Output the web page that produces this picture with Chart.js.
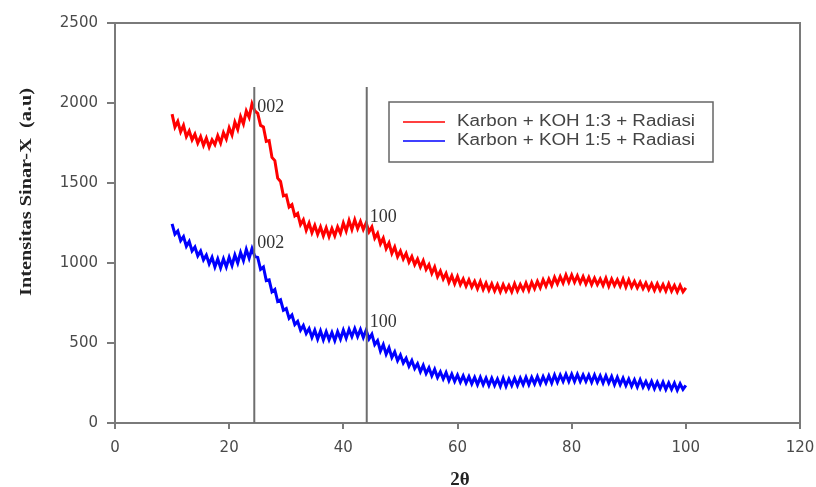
<html>

<head>
    <title>XRD Karbon KOH</title>
    <script src="https://cdn.jsdelivr.net/npm/chart.js@4.4.0/dist/chart.umd.min.js"></script>
    <style>
        body { margin: 0; background: #fff; }
        #wrap { width: 816px; height: 487px; }
    </style>
</head>

<body>
    <div id="wrap"><canvas id="myChart" width="816" height="487"></canvas></div>
</body>
<script>
    // 2 theta values (degrees)
    var twoTheta = [10,10.5,11,11.5,12,12.5,13,13.5,14,14.5,15,15.5,16,16.5,17,17.5,18,18.5,19,19.5,
        20,20.5,21,21.5,22,22.5,23,23.5,24,24.5,25,25.5,26,26.5,27,27.5,28,28.5,29,29.5,
        30,30.5,31,31.5,32,32.5,33,33.5,34,34.5,35,35.5,36,36.5,37,37.5,38,38.5,39,39.5,
        40,40.5,41,41.5,42,42.5,43,43.5,44,44.5,45,45.5,46,46.5,47,47.5,48,48.5,49,49.5,
        50,50.5,51,51.5,52,52.5,53,53.5,54,54.5,55,55.5,56,56.5,57,57.5,58,58.5,59,59.5,
        60,60.5,61,61.5,62,62.5,63,63.5,64,64.5,65,65.5,66,66.5,67,67.5,68,68.5,69,69.5,
        70,70.5,71,71.5,72,72.5,73,73.5,74,74.5,75,75.5,76,76.5,77,77.5,78,78.5,79,79.5,
        80,80.5,81,81.5,82,82.5,83,83.5,84,84.5,85,85.5,86,86.5,87,87.5,88,88.5,89,89.5,
        90,90.5,91,91.5,92,92.5,93,93.5,94,94.5,95,95.5,96,96.5,97,97.5,98,98.5,99,99.5,100];

    // Karbon + KOH 1:3 + Radiasi
    var koh13 = [1930,1850,1885,1820,1860,1790,1825,1770,1805,1750,
        1790,1735,1780,1725,1770,1740,1795,1750,1815,1775,
        1845,1800,1880,1835,1915,1870,1950,1910,1995,1950,
        1935,1860,1850,1760,1765,1660,1640,1530,1510,1420,
        1425,1350,1365,1295,1310,1240,1270,1205,1250,1190,
        1235,1180,1225,1170,1220,1165,1215,1170,1225,1185,
        1250,1200,1265,1210,1270,1215,1260,1210,1250,1195,
        1225,1155,1185,1120,1155,1090,1125,1060,1100,1040,
        1075,1025,1060,1005,1040,990,1025,975,1015,960,
        990,935,975,915,950,900,935,880,920,870,
        915,865,900,855,895,850,885,840,885,835,
        875,830,870,825,865,820,865,825,860,820,
        870,825,865,830,875,830,880,840,885,845,
        895,855,900,860,910,870,915,875,925,880,
        925,880,920,875,915,870,910,865,905,865,
        900,860,905,855,900,860,895,855,900,850,
        895,850,885,845,880,840,875,835,870,830,
        870,830,865,825,870,825,860,820,860,820,
        845];

    // Karbon + KOH 1:5 + Radiasi
    var koh15 = [1245,1180,1200,1140,1165,1105,1135,1075,1100,1045,
        1075,1020,1050,995,1035,975,1025,970,1025,975,
        1035,985,1050,1000,1065,1015,1085,1030,1090,1040,
        1035,960,975,890,895,820,835,760,770,705,
        715,655,675,615,635,580,610,560,590,535,
        580,525,575,520,570,520,565,515,570,525,
        580,530,585,540,590,540,585,535,580,525,
        555,490,515,450,490,430,470,410,445,390,
        425,375,405,355,390,340,370,320,360,310,
        345,295,335,285,320,275,315,265,305,260,
        300,255,295,250,290,245,285,240,285,240,
        280,235,280,235,275,230,280,230,275,235,
        280,235,280,240,285,240,285,245,290,245,
        290,250,295,250,300,255,300,260,305,260,
        305,260,305,260,300,260,300,255,300,255,
        295,250,295,250,290,240,285,240,280,235,
        275,230,270,225,270,225,260,220,260,215,
        255,215,255,210,250,210,250,205,245,210,
        235];

    // peak markers: position, top of line, labels
    var peakPos = [24.4, 44.1];
    var peakTop = 2100;
    var peakLabels = [
        { x: 24.4, y: 1944, text: '002' },
        { x: 24.4, y: 1094, text: '002' },
        { x: 44.1, y: 1256, text: '100' },
        { x: 44.1, y: 600, text: '100' }
    ];

    var axisGray = '#7a7a7a';

    function toXY(xs, ys) {
        return xs.map(function (x, i) { return { x: x, y: ys[i] }; });
    }

    var extras = {
        id: 'extras',
        afterDatasetsDraw: function (chart) {
            var ctx = chart.ctx, xs = chart.scales.x, ys = chart.scales.y;
            ctx.save();
            // frame top + right
            var a = chart.chartArea;
            ctx.strokeStyle = axisGray;
            ctx.lineWidth = 2;
            ctx.beginPath();
            ctx.moveTo(a.left, a.top);
            ctx.lineTo(a.right, a.top);
            ctx.lineTo(a.right, a.bottom);
            ctx.stroke();
            // peak lines
            ctx.strokeStyle = '#6e6e6e';
            ctx.lineWidth = 2;
            peakPos.forEach(function (p) {
                var px = xs.getPixelForValue(p);
                ctx.beginPath();
                ctx.moveTo(px, ys.getPixelForValue(peakTop));
                ctx.lineTo(px, ys.getPixelForValue(0));
                ctx.stroke();
            });
            // peak labels
            ctx.fillStyle = '#333';
            ctx.font = '18px "Liberation Serif"';
            ctx.textBaseline = 'alphabetic';
            ctx.textAlign = 'left';
            peakLabels.forEach(function (l) {
                ctx.fillText(l.text, xs.getPixelForValue(l.x) + 3, ys.getPixelForValue(l.y));
            });
            ctx.restore();
        },
        afterDraw: function (chart) {
            var ctx = chart.ctx;
            ctx.save();
            // legend box
            ctx.fillStyle = '#fff';
            ctx.fillRect(389, 102, 324, 60);
            ctx.strokeStyle = '#666';
            ctx.lineWidth = 1.5;
            ctx.strokeRect(389, 102, 324, 60);
            chart.data.datasets.forEach(function (ds, i) {
                var y = 122 + i * 19;
                ctx.strokeStyle = ds.borderColor;
                ctx.lineWidth = 1.5;
                ctx.beginPath();
                ctx.moveTo(403, y);
                ctx.lineTo(445, y);
                ctx.stroke();
                ctx.fillStyle = '#444';
                ctx.font = '16px "Liberation Sans"';
                ctx.textBaseline = 'middle';
                var w = ctx.measureText(ds.label).width;
                ctx.save();
                ctx.translate(457, y);
                ctx.scale(238 / w, 1);
                ctx.fillText(ds.label, 0, 0);
                ctx.restore();
            });
            // y title
            ctx.fillStyle = '#222';
            ctx.font = 'bold 17px "Liberation Serif"';
            var t = 'Intensitas Sinar-X  (a.u)';
            var tw = ctx.measureText(t).width;
            ctx.save();
            ctx.translate(27, 192);
            ctx.rotate(-Math.PI / 2);
            ctx.scale(208 / tw, 1);
            ctx.textAlign = 'center';
            ctx.textBaseline = 'middle';
            ctx.fillText(t, 0, 0);
            ctx.restore();
            // x title
            ctx.font = 'bold 19px "Liberation Serif"';
            ctx.textAlign = 'center';
            ctx.textBaseline = 'top';
            ctx.fillText('2\u03b8', 460, 471);
            ctx.restore();
        }
    };

    var plainTick = function (v) { return String(v); };

    var ctx = document.getElementById('myChart').getContext('2d');
    var chart = new Chart(ctx, {
        type: 'line',
        data: {
            datasets: [{
                label: 'Karbon + KOH 1:3 + Radiasi',
                borderColor: 'rgb(255, 0, 0)',
                data: toXY(twoTheta, koh13)
            }, {
                label: 'Karbon + KOH 1:5 + Radiasi',
                borderColor: 'rgb(0, 0, 255)',
                data: toXY(twoTheta, koh15)
            }]
        },
        options: {
            responsive: false,
            animation: false,
            elements: {
                point: { radius: 0 },
                line: { borderWidth: 3, tension: 0, borderJoinStyle: 'miter' }
            },
            layout: { padding: { top: 23, right: 16, left: 0, bottom: 0 } },
            plugins: { legend: { display: false }, tooltip: { enabled: false } },
            scales: {
                x: {
                    type: 'linear', min: 0, max: 120,
                    ticks: { stepSize: 20, color: '#4a4a4a', font: { family: 'DejaVu Sans', size: 15 }, padding: 10, maxRotation: 0, callback: plainTick },
                    grid: { drawOnChartArea: false, tickLength: 6, color: axisGray, lineWidth: 2 },
                    border: { color: axisGray, width: 2 },
                    afterFit: function (s) { s.height = 64; s.paddingLeft = 0; s.paddingRight = 0; }
                },
                y: {
                    min: 0, max: 2500,
                    ticks: { stepSize: 500, color: '#4a4a4a', font: { family: 'DejaVu Sans', size: 15 }, padding: 9, callback: plainTick },
                    grid: { drawOnChartArea: false, tickLength: 8, color: axisGray, lineWidth: 2 },
                    border: { color: axisGray, width: 2 },
                    afterFit: function (s) { s.width = 115; s.paddingTop = 0; s.paddingBottom = 0; }
                }
            }
        },
        plugins: [extras]
    });
</script>

</html>
